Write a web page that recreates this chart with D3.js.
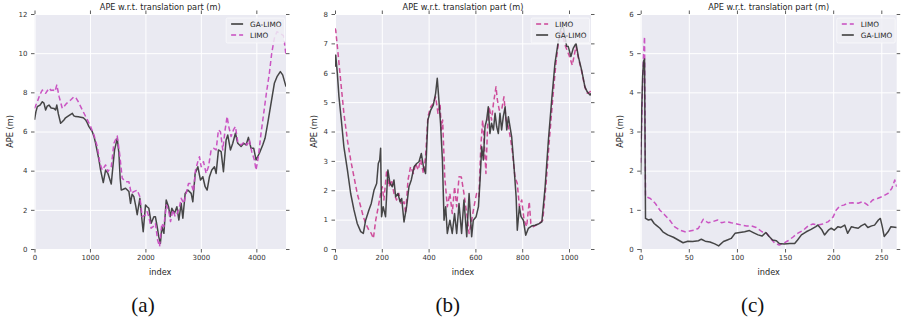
<!DOCTYPE html>
<html>
<head>
<meta charset="utf-8">
<script src="https://cdn.jsdelivr.net/npm/d3@7/dist/d3.min.js"></script>
<style>
  body { margin: 0; background: #fff; }
  svg { display: block; }
</style>
</head>
<body>
<svg width="905" height="325"></svg>
<script>
// ---- data (index, APE in m) ----
// (a)
const aGaIdx = [0, 25, 51, 100, 141, 170, 201, 230, 261, 300, 351, 380, 402, 430, 471, 500, 531, 560, 592, 640, 682, 710, 742, 790, 832, 880, 922, 950, 982, 1042, 1072, 1102, 1130, 1162, 1192, 1240, 1282, 1324, 1384, 1420, 1444, 1492, 1522, 1545, 1564, 1600, 1642, 1702, 1732, 1760, 1792, 1825, 1852, 1900, 1930, 1960, 2002, 2030, 2062, 2104, 2152, 2180, 2212, 2240, 2270, 2297, 2333, 2375, 2417, 2447, 2477, 2525, 2567, 2603, 2645, 2675, 2717, 2765, 2825, 2855, 2897, 2945, 2993, 3035, 3077, 3113, 3155, 3197, 3245, 3275, 3317, 3365, 3407, 3455, 3485, 3533, 3575, 3623, 3665, 3725, 3773, 3815, 3857, 3905, 3953, 3995, 4055, 4115, 4157, 4205, 4265, 4325, 4373, 4433, 4475, 4535];
const aGaApe = [6.59, 7.0, 7.27, 7.35, 7.52, 7.45, 7.10, 7.3, 7.35, 7.2, 7.18, 7.1, 7.35, 6.9, 6.42, 6.5, 6.59, 6.7, 6.76, 6.85, 6.93, 6.8, 6.76, 6.75, 6.73, 6.7, 6.59, 6.45, 6.25, 5.99, 5.75, 5.40, 5.0, 4.55, 4.03, 3.39, 4.03, 3.86, 3.32, 4.4, 5.06, 5.65, 4.89, 3.6, 3.01, 3.05, 3.10, 2.94, 2.33, 2.8, 2.67, 2.2, 1.75, 2.59, 1.7, 0.88, 2.25, 2.16, 2.08, 1.31, 1.65, 1.65, 1.14, 0.63, 0.29, 1.14, 0.80, 2.50, 2.16, 1.65, 2.08, 1.82, 2.16, 1.48, 2.33, 1.57, 2.84, 3.01, 2.84, 2.41, 3.86, 4.20, 3.52, 3.69, 3.18, 3.01, 3.69, 4.03, 4.20, 3.86, 5.06, 4.97, 3.95, 5.57, 5.82, 5.06, 5.40, 5.91, 5.40, 5.23, 5.40, 5.31, 5.70, 5.14, 5.14, 4.55, 4.89, 5.31, 5.65, 6.42, 7.44, 8.46, 8.80, 9.06, 8.89, 8.29];
const aLimoIdx = [0, 51, 100, 141, 201, 261, 300, 339, 370, 402, 444, 501, 540, 580, 652, 712, 750, 790, 862, 940, 1012, 1072, 1132, 1180, 1222, 1282, 1324, 1384, 1432, 1492, 1534, 1582, 1642, 1702, 1744, 1792, 1852, 1900, 1942, 2002, 2030, 2062, 2104, 2140, 2180, 2220, 2255, 2297, 2333, 2375, 2417, 2453, 2495, 2537, 2573, 2615, 2645, 2693, 2735, 2777, 2825, 2867, 2903, 2945, 2975, 3005, 3047, 3095, 3137, 3185, 3233, 3275, 3317, 3353, 3395, 3437, 3473, 3503, 3545, 3587, 3623, 3665, 3725, 3785, 3833, 3875, 3917, 3965, 3995, 4037, 4085, 4133, 4181, 4235, 4277, 4325, 4373, 4430, 4490, 4535];
const aLimoApe = [7.18, 7.52, 7.9, 8.12, 7.95, 8.21, 8.1, 8.12, 8.05, 8.38, 7.78, 7.18, 7.3, 7.44, 7.61, 7.78, 7.7, 7.52, 7.10, 6.67, 6.25, 5.82, 5.23, 4.38, 4.03, 4.29, 3.95, 4.20, 5.40, 5.77, 4.89, 3.61, 3.44, 3.44, 2.84, 2.93, 3.01, 2.67, 1.65, 1.74, 1.91, 1.65, 1.06, 1.14, 1.31, 0.46, 0.12, 1.31, 1.14, 2.25, 1.99, 1.40, 1.99, 1.65, 1.82, 2.16, 2.59, 2.33, 2.84, 3.35, 3.35, 2.93, 4.03, 4.46, 4.71, 4.20, 4.46, 3.86, 4.20, 5.06, 5.14, 5.06, 6.08, 5.99, 5.06, 6.08, 6.76, 6.25, 5.74, 6.08, 6.25, 5.48, 5.31, 5.48, 5.31, 5.57, 4.97, 4.55, 4.03, 4.72, 5.91, 6.93, 7.95, 8.97, 9.99, 10.76, 11.1, 11.0, 10.9, 9.9];

// (b)
const bGaIdx = [0, 3, 10, 17, 27, 38, 53, 67, 81, 95, 110, 121, 131, 145, 155, 167, 178, 185, 191, 195, 199, 206, 216, 226, 235, 245, 252, 259, 269, 278, 285, 295, 306, 316, 326, 338, 349, 359, 369, 378, 387, 397, 409, 420, 430, 437, 444, 451, 459, 466, 473, 480, 491, 501, 511, 520, 530, 541, 551, 563, 573, 584, 591, 603, 613, 620, 627, 634, 641, 648, 655, 662, 669, 677, 684, 691, 698, 705, 712, 719, 727, 734, 741, 748, 755, 765, 774, 779, 788, 795, 805, 815, 826, 840, 855, 869, 884, 898, 912, 926, 940, 955, 965, 975, 990, 997, 1008, 1018, 1030, 1040, 1054, 1068, 1078, 1090, 1094];
const bGaApe = [6.2, 6.6, 5.98, 5.18, 4.39, 3.48, 2.69, 1.89, 1.33, 0.87, 0.59, 0.53, 0.98, 1.33, 1.55, 2.01, 2.23, 2.91, 3.03, 3.43, 1.10, 1.44, 1.10, 2.69, 2.23, 2.12, 2.35, 1.78, 1.89, 1.61, 1.72, 0.92, 1.44, 2.12, 2.35, 2.80, 2.91, 2.97, 3.25, 2.80, 2.57, 4.39, 4.73, 4.90, 5.30, 5.81, 5.07, 4.28, 3.03, 0.98, 1.44, 0.53, 0.98, 0.53, 1.21, 0.53, 1.55, 0.53, 1.67, 0.42, 1.89, 0.42, 0.98, 1.10, 1.44, 2.35, 3.48, 3.03, 4.16, 4.39, 4.84, 3.93, 4.28, 4.05, 4.62, 4.16, 3.93, 4.62, 4.05, 4.50, 4.84, 4.05, 4.50, 4.16, 3.82, 2.80, 1.78, 0.64, 1.44, 1.10, 0.98, 0.47, 0.70, 0.78, 0.81, 0.85, 0.92, 2.12, 3.71, 5.07, 6.32, 7.11, 7.5, 7.6, 6.9, 6.89, 6.55, 6.83, 7.0, 6.55, 6.09, 5.52, 5.35, 5.24, 5.3];
const bLimoIdx = [0, 3, 13, 24, 38, 53, 67, 81, 95, 110, 121, 131, 145, 155, 164, 174, 185, 195, 202, 209, 221, 231, 241, 252, 263, 273, 283, 295, 302, 312, 323, 335, 345, 355, 366, 378, 387, 397, 409, 420, 430, 440, 449, 454, 460, 469, 480, 491, 501, 511, 520, 530, 540, 551, 563, 573, 584, 594, 605, 615, 623, 631, 638, 645, 652, 659, 669, 677, 688, 694, 702, 712, 722, 731, 741, 751, 759, 769, 779, 788, 798, 808, 819, 830, 837, 848, 869, 888, 902, 916, 930, 944, 956, 968, 985, 1000, 1014, 1030, 1040, 1054, 1068, 1078, 1090, 1094];
const bLimoApe = [7.51, 7.45, 6.66, 5.75, 4.62, 3.71, 3.03, 2.46, 1.89, 1.44, 1.10, 0.87, 0.64, 0.53, 0.36, 0.98, 1.44, 1.89, 2.12, 1.67, 2.69, 2.12, 2.35, 1.89, 1.67, 1.89, 1.50, 1.61, 1.21, 2.35, 2.80, 2.57, 2.91, 2.69, 3.03, 2.57, 3.14, 4.50, 4.84, 4.95, 5.18, 4.62, 4.95, 4.05, 4.39, 2.46, 1.44, 1.89, 1.21, 2.12, 1.44, 2.46, 2.45, 1.89, 1.21, 0.53, 0.98, 1.44, 1.89, 1.78, 3.48, 4.39, 3.60, 2.57, 4.16, 4.84, 4.39, 4.95, 5.52, 5.07, 4.73, 4.73, 5.18, 4.39, 4.16, 3.71, 3.25, 2.46, 2.23, 1.44, 1.67, 0.98, 0.76, 1.61, 0.87, 0.76, 0.85, 0.98, 2.23, 3.71, 5.07, 6.32, 7.11, 7.4, 6.9, 6.6, 6.26, 6.9, 6.5, 6.05, 5.5, 5.3, 5.35, 5.4];

// (c)
const cGaIdx = [0, 1, 2, 3, 4, 5, 8, 11, 14, 16, 20, 23, 28, 34, 39, 44, 49, 54, 60, 63, 67, 72, 77, 81, 86, 90, 94, 98, 103, 108, 113, 117, 122, 126, 130, 133, 137, 141, 144, 149, 155, 160, 163, 167, 172, 177, 182, 184, 188, 191, 195, 198, 201, 205, 208, 212, 215, 219, 222, 226, 229, 233, 236, 240, 243, 247, 249, 251, 253, 257, 260, 266];
const cGaApe = [1.9, 3.5, 4.4, 4.8, 4.85, 0.78, 0.74, 0.76, 0.65, 0.61, 0.53, 0.44, 0.36, 0.30, 0.23, 0.16, 0.20, 0.19, 0.21, 0.25, 0.20, 0.18, 0.13, 0.08, 0.19, 0.23, 0.27, 0.40, 0.42, 0.44, 0.47, 0.42, 0.36, 0.33, 0.42, 0.33, 0.23, 0.21, 0.14, 0.13, 0.14, 0.14, 0.23, 0.36, 0.44, 0.50, 0.57, 0.61, 0.50, 0.36, 0.48, 0.53, 0.48, 0.57, 0.55, 0.61, 0.40, 0.57, 0.55, 0.53, 0.59, 0.64, 0.55, 0.59, 0.61, 0.74, 0.78, 0.57, 0.32, 0.44, 0.57, 0.55];
const cLimoIdx = [0, 2, 3, 4, 5, 10, 15, 20, 25, 30, 35, 41, 46, 51, 56, 60, 65, 70, 75, 80, 84, 89, 94, 100, 105, 110, 115, 120, 126, 131, 135, 139, 144, 148, 153, 158, 163, 169, 174, 179, 184, 189, 195, 200, 203, 207, 211, 215, 220, 226, 231, 236, 241, 246, 252, 257, 261, 264, 266];
const cLimoApe = [2.2, 4.2, 5.0, 5.42, 1.34, 1.29, 1.17, 0.99, 0.87, 0.74, 0.57, 0.48, 0.44, 0.46, 0.48, 0.53, 0.76, 0.67, 0.70, 0.74, 0.67, 0.70, 0.67, 0.64, 0.61, 0.59, 0.59, 0.55, 0.44, 0.40, 0.27, 0.16, 0.10, 0.14, 0.21, 0.30, 0.40, 0.48, 0.59, 0.64, 0.61, 0.64, 0.70, 0.82, 0.99, 1.10, 1.12, 1.17, 1.18, 1.17, 1.21, 1.12, 1.25, 1.29, 1.35, 1.42, 1.55, 1.76, 1.59];

const aXTicks = [0, 1000, 2000, 3000, 4000];
const aYTicks = [0, 2, 4, 6, 8, 10, 12];
const bXTicks = [0, 200, 400, 600, 800, 1000];
const bYTicks = [0, 1, 2, 3, 4, 5, 6, 7, 8];
const cXTicks = [0, 50, 100, 150, 200, 250];
const cYTicks = [0, 1, 2, 3, 4, 5, 6];

const title = "APE w.r.t. translation part (m)";
const xLabel = "index";
const yLabel = "APE (m)";

const GA_COLOR = "#333333";
const FONT = "'DejaVu Sans', sans-serif";

const zip = (xs, ys) => xs.map((v, i) => [v, ys[i]]);

const panels = [
  { left: 34.5, right: 286, yLabX: 10, tag: "(a)", tagX: 143,
    xMax: 4535, yMax: 12, xTicks: aXTicks, yTicks: aYTicks,
    series: [
      { name: "GA-LIMO", pts: zip(aGaIdx, aGaApe), color: GA_COLOR, dash: null },
      { name: "LIMO", pts: zip(aLimoIdx, aLimoApe), color: "#c84cc0", dash: "5,3" }
    ] },
  { left: 335, right: 591, yLabX: 314, tag: "(b)", tagX: 447.7,
    xMax: 1094, yMax: 8, xTicks: bXTicks, yTicks: bYTicks,
    series: [
      { name: "LIMO", pts: zip(bLimoIdx, bLimoApe), color: "#cc4496", dash: "5,3" },
      { name: "GA-LIMO", pts: zip(bGaIdx, bGaApe), color: GA_COLOR, dash: null }
    ] },
  { left: 640.7, right: 896.7, yLabX: 620, tag: "(c)", tagX: 752.7,
    xMax: 266, yMax: 6, xTicks: cXTicks, yTicks: cYTicks,
    series: [
      { name: "LIMO", pts: zip(cLimoIdx, cLimoApe), color: "#c84cc0", dash: "5,3" },
      { name: "GA-LIMO", pts: zip(cGaIdx, cGaApe), color: GA_COLOR, dash: null }
    ] }
];

const plotTop = 14, plotBottom = 249;
const svg = d3.select("svg");
const fmt = d3.format("d");

function styleTicks(sel, showText) {
  sel.select(".domain").remove();
  sel.selectAll(".tick line").attr("stroke", "#333").attr("stroke-width", 0.8);
  sel.selectAll(".tick text")
    .attr("fill", "#333")
    .style("font-family", FONT)
    .style("font-size", "7px");
  if (!showText) sel.selectAll(".tick text").remove();
}

function drawPanel(p, k) {
  const x = d3.scaleLinear().domain([0, p.xMax]).range([p.left, p.right]);
  const y = d3.scaleLinear().domain([0, p.yMax]).range([plotBottom, plotTop]);
  const g = svg.append("g");

  g.append("rect")
    .attr("x", p.left).attr("y", plotTop)
    .attr("width", p.right - p.left).attr("height", plotBottom - plotTop)
    .attr("fill", "#eaeaf2");

  // grid
  g.append("g")
    .attr("transform", `translate(0,${plotBottom})`)
    .call(d3.axisBottom(x).tickValues(p.xTicks).tickSize(-(plotBottom - plotTop)).tickFormat(""))
    .call(s => {
      s.select(".domain").remove();
      s.selectAll("line").attr("stroke", "#fff").attr("stroke-width", 1);
    });
  g.append("g")
    .attr("transform", `translate(${p.left},0)`)
    .call(d3.axisLeft(y).tickValues(p.yTicks).tickSize(-(p.right - p.left)).tickFormat(""))
    .call(s => {
      s.select(".domain").remove();
      s.selectAll("line").attr("stroke", "#fff").attr("stroke-width", 1);
    });

  // lines
  const clipId = "clip" + k;
  g.append("clipPath").attr("id", clipId)
    .append("rect")
    .attr("x", p.left).attr("y", plotTop)
    .attr("width", p.right - p.left).attr("height", plotBottom - plotTop);

  const line = d3.line().x(d => x(d[0])).y(d => y(d[1]));
  p.series.forEach(s => {
    g.append("path")
      .attr("clip-path", `url(#${clipId})`)
      .attr("d", line(s.pts))
      .attr("fill", "none")
      .attr("stroke", s.color)
      .attr("stroke-width", 1.5)
      .attr("stroke-opacity", s.dash ? 0.95 : 0.9)
      .attr("stroke-linejoin", "round")
      .attr("stroke-dasharray", s.dash);
  });

  // axes (ticks outward on all four sides)
  g.append("g").attr("transform", `translate(0,${plotBottom})`)
    .call(d3.axisBottom(x).tickValues(p.xTicks).tickFormat(fmt).tickSize(3.5).tickPadding(2.5))
    .call(s => styleTicks(s, true));
  g.append("g").attr("transform", `translate(0,${plotTop})`)
    .call(d3.axisTop(x).tickValues(p.xTicks).tickSize(3.5))
    .call(s => styleTicks(s, false));
  g.append("g").attr("transform", `translate(${p.left},0)`)
    .call(d3.axisLeft(y).tickValues(p.yTicks).tickFormat(fmt).tickSize(3.5).tickPadding(3.5))
    .call(s => styleTicks(s, true));
  g.append("g").attr("transform", `translate(${p.right},0)`)
    .call(d3.axisRight(y).tickValues(p.yTicks).tickSize(3.5))
    .call(s => styleTicks(s, false));

  // texts
  const cx = (p.left + p.right) / 2;
  g.append("text")
    .attr("x", cx).attr("y", 10)
    .attr("text-anchor", "middle")
    .attr("fill", "#262626")
    .style("font-family", FONT).style("font-size", "8.2px")
    .text(title);
  g.append("text")
    .attr("x", cx).attr("y", 275)
    .attr("text-anchor", "middle")
    .attr("fill", "#262626")
    .style("font-family", FONT).style("font-size", "8.2px")
    .text(xLabel);
  g.append("text")
    .attr("transform", `translate(${p.yLabX + 3},${(plotTop + plotBottom) / 2}) rotate(-90)`)
    .attr("text-anchor", "middle")
    .attr("fill", "#262626")
    .style("font-family", FONT).style("font-size", "8.2px")
    .text(yLabel);
  g.append("text")
    .attr("x", p.tagX).attr("y", 312)
    .attr("text-anchor", "middle")
    .attr("fill", "#111")
    .style("font-family", "'Liberation Serif', 'DejaVu Serif', serif")
    .style("font-size", "21px")
    .text(p.tag);

  // legend
  const lg = g.append("g");
  const box = lg.append("rect");
  let maxW = 0;
  p.series.forEach((s, i) => {
    const ry = plotTop + 10 + i * 11;
    lg.append("line")
      .attr("x1", 0).attr("x2", 12)
      .attr("y1", ry).attr("y2", ry)
      .attr("stroke", s.color)
      .attr("stroke-width", 1.5)
      .attr("stroke-dasharray", s.dash);
    const t = lg.append("text")
      .attr("x", 19).attr("y", ry + 2.5)
      .attr("fill", "#262626")
      .style("font-family", FONT).style("font-size", "7.3px")
      .text(s.name);
    maxW = Math.max(maxW, t.node().getComputedTextLength());
  });
  const bw = 19 + maxW + 8;
  const bx = p.right - 1.5 - bw;
  box.attr("x", -5).attr("y", plotTop + 4)
    .attr("width", bw).attr("height", 25)
    .attr("rx", 1.5)
    .attr("fill", "#eeeef4")
    .attr("fill-opacity", 0.85)
    .attr("stroke", "#fafafd")
    .attr("stroke-width", 0.8);
  lg.attr("transform", `translate(${bx + 5},0)`);
}

panels.forEach(drawPanel);
</script>
</body>
</html>
